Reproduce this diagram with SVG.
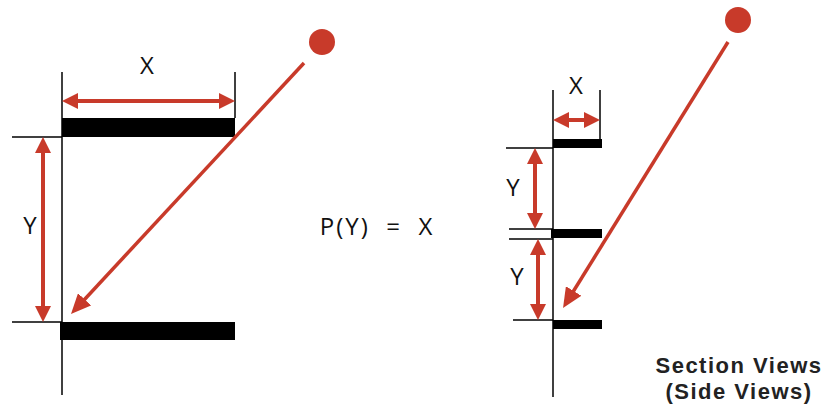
<svg xmlns="http://www.w3.org/2000/svg" width="834" height="412" viewBox="0 0 834 412">
<style>
.blk{stroke:#000;stroke-width:1.5;fill:none}
.bar{fill:#000}
.red{stroke:#C83A2A;stroke-width:4;fill:none}
.diag{stroke:#C83A2A;stroke-width:3.5;fill:none}
.lbl{font-family:"Open Sans","Liberation Sans",Arial,sans-serif;font-size:24px;font-weight:500;fill:#111;text-anchor:middle}
.cap{font-family:"Liberation Sans",Arial,sans-serif;font-size:22px;font-weight:bold;letter-spacing:1.5px;fill:#222;text-anchor:middle}
</style>
<defs>
<marker id="ah" markerUnits="userSpaceOnUse" markerWidth="16" markerHeight="16" viewBox="0 0 16 16" refX="8" refY="8" orient="auto-start-reverse">
<path d="M0,0 L16,8 L0,16 z" fill="#C83A2A"/>
</marker>
<marker id="ahd" markerUnits="userSpaceOnUse" markerWidth="20" markerHeight="18" viewBox="0 0 20 18" refX="10" refY="9" orient="auto">
<path d="M0,0 L20,9 L0,18 z" fill="#C83A2A"/>
</marker>
</defs>
<g id="left-view">
<line class="blk" x1="62" y1="72" x2="62" y2="395"/>
<line class="blk" x1="235" y1="72" x2="235" y2="118"/>
<line class="blk" x1="12" y1="137" x2="62" y2="137"/>
<line class="blk" x1="12" y1="322" x2="62" y2="322"/>
<rect class="bar" x="62" y="118" width="173" height="19"/>
<rect class="bar" x="60" y="322" width="175" height="18"/>
<text class="lbl" x="147" y="74">X</text>
<text class="lbl" x="30" y="234">Y</text>
<circle cx="322" cy="42" r="13" fill="#C83A2A"/>
</g>
<g id="right-view">
<line class="blk" x1="553" y1="90" x2="553" y2="397"/>
<line class="blk" x1="600" y1="90" x2="600" y2="139"/>
<line class="blk" x1="506" y1="148" x2="553" y2="148"/>
<line class="blk" x1="509" y1="229" x2="553" y2="229"/>
<line class="blk" x1="509" y1="239" x2="553" y2="239"/>
<line class="blk" x1="513" y1="320" x2="553" y2="320"/>
<rect class="bar" x="553" y="139" width="49" height="9"/>
<rect class="bar" x="551" y="229" width="51" height="9"/>
<rect class="bar" x="553" y="320" width="49" height="9"/>
<text class="lbl" x="576" y="94">X</text>
<text class="lbl" x="513" y="196">Y</text>
<text class="lbl" x="517" y="285">Y</text>
<circle cx="738" cy="20" r="13" fill="#C83A2A"/>
</g>
<g id="equation">
<text class="lbl" x="377" y="235" style="font-size:24px;letter-spacing:2px;white-space:pre">P(Y)  =  X</text>
</g>
<g id="caption">
<text class="cap" x="739" y="373">Section Views</text>
<text class="cap" x="739" y="399">(Side Views)</text>
</g>
<g id="connectors">
<line class="red" x1="70" y1="101" x2="227" y2="101" marker-start="url(#ah)" marker-end="url(#ah)"/>
<line class="red" x1="43" y1="145" x2="43" y2="314" marker-start="url(#ah)" marker-end="url(#ah)"/>
<line class="red" x1="561" y1="120" x2="592" y2="120" marker-start="url(#ah)" marker-end="url(#ah)"/>
<line class="red" x1="535" y1="156" x2="535" y2="221" marker-start="url(#ah)" marker-end="url(#ah)"/>
<line class="red" x1="538" y1="247" x2="538" y2="312" marker-start="url(#ah)" marker-end="url(#ah)"/>
<line class="diag" x1="304" y1="63" x2="77.8" y2="306.7" marker-end="url(#ahd)"/>
<line class="diag" x1="728" y1="42" x2="568.3" y2="299.5" marker-end="url(#ahd)"/>
</g>
</svg>
